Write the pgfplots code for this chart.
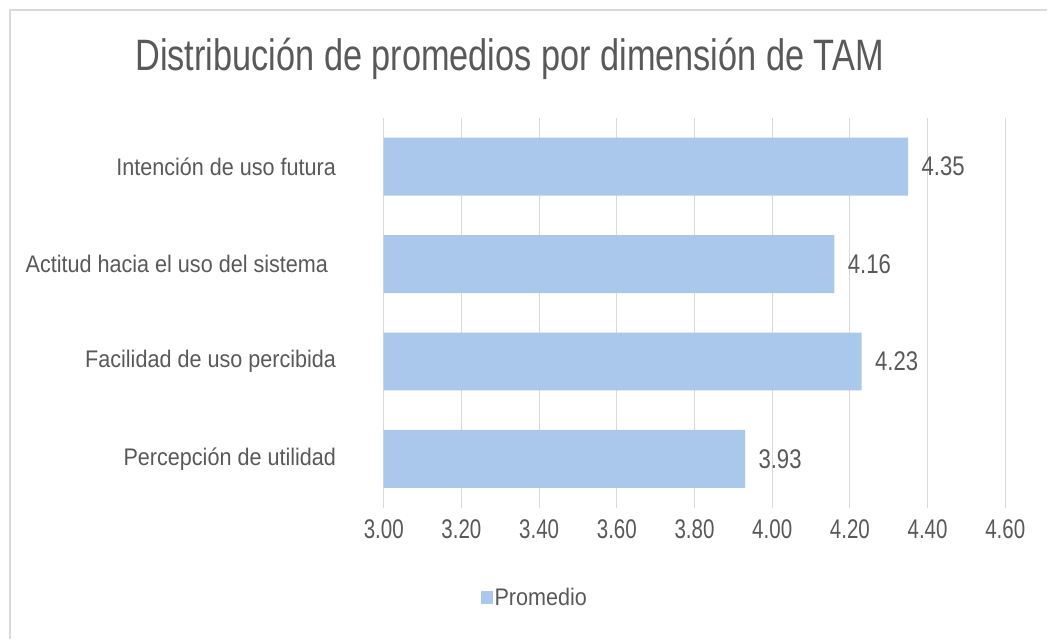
\documentclass[border=0pt]{standalone}
\usepackage{fontspec}
\setmainfont{Liberation Sans}[FakeStretch=0.76]
\newfontfamily\fcat{Liberation Sans}[FakeStretch=0.9]
\newfontfamily\ftitle{Liberation Sans}[FakeStretch=0.78]
\newfontfamily\flab{Liberation Sans}[FakeStretch=0.82]
\usepackage{pgfplots}
\pgfplotsset{compat=1.18}
\definecolor{barc}{HTML}{A9C8EC}
\definecolor{txt}{HTML}{595959}
\definecolor{gridc}{HTML}{D9D9D9}
\begin{document}
\begin{tikzpicture}[x=1pt,y=1pt]
\fill[white] (0,0) rectangle (1048,639);
\draw[gridc, line width=1.5pt] (10,0) -- (10,629) -- (1048,629);
\node[txt, font=\ftitle\fontsize{44}{48}\selectfont] at (510,580) {Distribución de promedios por dimensión de TAM};
\begin{axis}[
  at={(384pt,131pt)}, anchor=south west, scale only axis,
  width=622pt, height=390pt,
  xbar, bar width=58pt,
  xmin=3, xmax=4.6, ymin=-0.5, ymax=3.5,
  xtick={3,3.2,...,4.6},
  ytick={0,1,2,3},
  yticklabels={Percepción de utilidad, Facilidad de uso percibida, {Actitud hacia el uso del sistema\rule{8pt}{0pt}}, Intención de uso futura},
  xticklabel={\pgfmathprintnumber[fixed,fixed zerofill,precision=2]{\tick}},
  /pgf/number format/assume math mode=true,
  xmajorgrids, grid style={gridc, line width=1pt},
  axis line style={draw=none}, tick style={draw=none},
  xticklabel style={txt, font=\fontsize{27}{30}\selectfont, yshift=-8pt},
  yticklabel style={txt, font=\fcat\fontsize{24}{28}\selectfont, xshift=-40pt},
  nodes near coords={\pgfmathprintnumber[fixed,fixed zerofill,precision=2]{\pgfplotspointmeta}},
  nodes near coords style={txt, font=\flab\fontsize{27}{30}\selectfont, anchor=west, xshift=10pt},
  point meta=x,
  legend style={at={(0.243,-0.23)}, anchor=center, draw=none, fill=none, font=\fcat\fontsize{24}{28}\selectfont, text=txt},
  legend image code/.code={\fill[barc] (0pt,-7pt) rectangle (12pt,6pt);},
  clip=false,
]
\addplot[fill=barc, draw=none] coordinates {(3.93,0) (4.23,1) (4.16,2) (4.35,3)};
\addlegendentry{Promedio}
\end{axis}
\end{tikzpicture}
\end{document}
